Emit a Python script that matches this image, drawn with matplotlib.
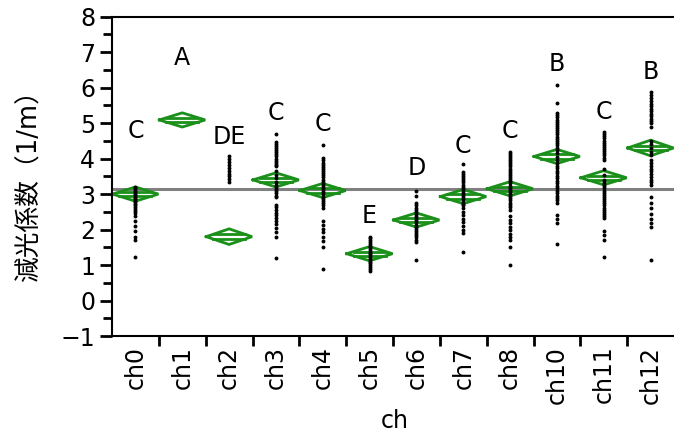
import matplotlib
matplotlib.use("Agg")
import matplotlib.pyplot as plt
from matplotlib.ticker import MultipleLocator, FixedLocator

# groups on the x axis
channels = ['ch0', 'ch1', 'ch2', 'ch3', 'ch4', 'ch5', 'ch6', 'ch7', 'ch8', 'ch10', 'ch11', 'ch12']

ch0 = [3.21, 3.17, 3.13, 3.09, 3.05, 3.01, 2.97, 2.93, 2.89, 2.85, 2.81, 2.77, 2.73,
       2.68, 2.63, 2.58, 2.53, 2.47, 2.37, 2.23, 2.09, 1.95, 1.80, 1.71, 1.24]
ch1 = []
ch2 = [4.06, 3.98, 3.90, 3.82, 3.74, 3.66, 3.58, 3.50, 3.42, 3.35]
ch3 = [4.69, 4.48, 4.42, 4.36, 4.30, 4.24, 4.18, 4.12, 4.06, 4.00, 3.94, 3.88, 3.83,
       3.78, 3.66, 3.55, 3.45, 3.34, 3.26, 3.20, 3.14, 3.08, 3.02, 2.96, 2.93, 2.70,
       2.63, 2.56, 2.48, 2.40, 2.33, 2.25, 2.15, 2.05, 1.93, 1.80, 1.19]
ch4 = [4.38, 4.01, 3.95, 3.89, 3.83, 3.77, 3.71, 3.65, 3.59, 3.53, 3.47, 3.41, 3.35,
       3.29, 3.23, 3.17, 3.11, 3.05, 2.99, 2.93, 2.87, 2.81, 2.75, 2.69, 2.60, 2.23,
       2.12, 2.02, 1.92, 1.80, 1.68, 1.52, 0.89]
ch5 = [1.80, 1.75, 1.70, 1.65, 1.60, 1.55, 1.50, 1.45, 1.40, 1.35, 1.30, 1.25, 1.20,
       1.15, 1.10, 1.05, 1.00, 0.95, 0.90, 0.84]
ch6 = [3.09, 2.95, 2.74, 2.68, 2.62, 2.56, 2.50, 2.44, 2.38, 2.32, 2.26, 2.20, 2.14,
       2.08, 2.02, 1.96, 1.90, 1.84, 1.78, 1.72, 1.66, 1.14]
ch7 = [3.84, 3.63, 3.57, 3.51, 3.45, 3.39, 3.33, 3.27, 3.21, 3.15, 3.09, 3.03, 2.97,
       2.91, 2.85, 2.79, 2.73, 2.69, 2.60, 2.50, 2.40, 2.30, 2.20, 2.10, 2.00, 1.90, 1.38]
ch8 = [4.20, 4.14, 4.08, 4.02, 3.96, 3.90, 3.84, 3.78, 3.72, 3.66, 3.60, 3.54, 3.48,
       3.42, 3.36, 3.30, 3.24, 3.18, 3.12, 3.06, 3.00, 2.94, 2.88, 2.82, 2.76, 2.70,
       2.63, 2.56, 2.37, 2.28, 2.18, 2.08, 1.98, 1.88, 1.80, 1.71, 1.50, 0.99]
ch10 = [6.08, 5.56, 5.28, 5.22, 5.16, 5.10, 5.04, 4.98, 4.92, 4.86, 4.80, 4.74, 4.68,
        4.62, 4.56, 4.50, 4.44, 4.38, 4.31, 4.25, 4.15, 4.05, 3.95, 3.87, 3.80, 3.73,
        3.66, 3.59, 3.52, 3.45, 3.38, 3.31, 3.24, 3.17, 3.10, 3.03, 2.96, 2.89, 2.82,
        2.74, 2.41, 2.30, 2.18, 1.59]
ch11 = [4.75, 4.69, 4.63, 4.57, 4.51, 4.45, 4.39, 4.33, 4.27, 4.21, 4.15, 4.09, 4.03,
        3.96, 3.70, 3.55, 3.40, 3.34, 3.28, 3.22, 3.16, 3.10, 3.04, 2.98, 2.92, 2.86,
        2.80, 2.74, 2.68, 2.62, 2.56, 2.50, 2.44, 2.38, 2.33, 1.97, 1.85, 1.71, 1.22]
ch12 = [5.89, 5.78, 5.70, 5.62, 5.55, 5.48, 5.41, 5.34, 5.27, 5.20, 5.13, 5.06, 4.99,
        4.90, 4.50, 4.40, 4.30, 4.20, 4.10, 3.96, 3.88, 3.80, 3.72, 3.64, 3.56, 3.48,
        3.40, 3.33, 3.26, 2.93, 2.75, 2.60, 2.45, 2.30, 2.18, 2.08, 1.13]
points = [ch0, ch1, ch2, ch3, ch4, ch5, ch6, ch7, ch8, ch10, ch11, ch12]

# means diamonds
means = [3.00, 5.09, 1.80, 3.40, 3.10, 1.32, 2.27, 2.93, 3.15, 4.06, 3.46, 4.30]
ci_half = [0.20, 0.20, 0.22, 0.20, 0.20, 0.20, 0.20, 0.20, 0.20, 0.20, 0.20, 0.22]
grand_mean = 3.14

# connecting letters
letters = ['C', 'A', 'DE', 'C', 'C', 'E', 'D', 'C', 'C', 'B', 'C', 'B']
letter_y = [4.79, 6.83, 4.62, 5.28, 4.97, 2.39, 3.73, 4.36, 4.79, 6.67, 5.32, 6.45]

green = '#1a8f1a'
fs = 17

fig = plt.figure(figsize=(6.74, 4.37), dpi=100)
ax = fig.add_axes([0.1662, 0.2311, 0.8338, 0.7307])

ax.axhline(grand_mean, color='#808080', lw=2.2, zorder=1)

hw = 0.49
for i, (m, h) in enumerate(zip(means, ci_half)):
    ax.plot([i - hw, i, i + hw, i, i - hw], [m, m + h, m, m - h, m],
            color=green, lw=2, zorder=2, solid_joinstyle='miter')
    for s in (1, -1):
        f = 0.3
        ax.plot([i - hw * (1 - f), i + hw * (1 - f)], [m + s * f * h, m + s * f * h],
                color=green, lw=2, zorder=2)

for i, vals in enumerate(points):
    if vals:
        ax.plot([i] * len(vals), vals, 'o', color='black', ms=2.8, mew=0, zorder=3)

for i, (t, y) in enumerate(zip(letters, letter_y)):
    ax.text(i, y, t, ha='center', va='center', fontsize=fs, family='DejaVu Sans')

ax.set_xlim(-0.5, len(channels) - 0.5)
ax.set_ylim(-1, 8)
ax.set_yticks(range(-1, 9))
ax.yaxis.set_minor_locator(MultipleLocator(0.5))
ax.set_xticks(range(len(channels)))
ax.set_xticklabels(channels, rotation=90)
ax.xaxis.set_minor_locator(FixedLocator([k + 0.5 for k in range(len(channels) - 1)]))

ax.tick_params(axis='y', which='major', length=9, width=2, labelsize=fs, pad=3)
ax.tick_params(axis='y', which='minor', length=6.5, width=2)
ax.tick_params(axis='x', which='major', length=0, labelsize=fs, pad=7)
ax.tick_params(axis='x', which='minor', length=7, width=2)

for side in ('left', 'top', 'bottom'):
    ax.spines[side].set_linewidth(1.5)
ax.spines['right'].set_visible(False)

ax.set_xlabel('ch', fontsize=fs)
ax.xaxis.set_label_coords(0.503, -0.23)
ax.set_ylabel('減光係数（1/m）', fontsize=18.5, family=['DejaVu Sans', 'Noto Sans CJK JP'])
ax.yaxis.set_label_coords(-0.124, 0.49)

fig.savefig('out.png', dpi=100)
